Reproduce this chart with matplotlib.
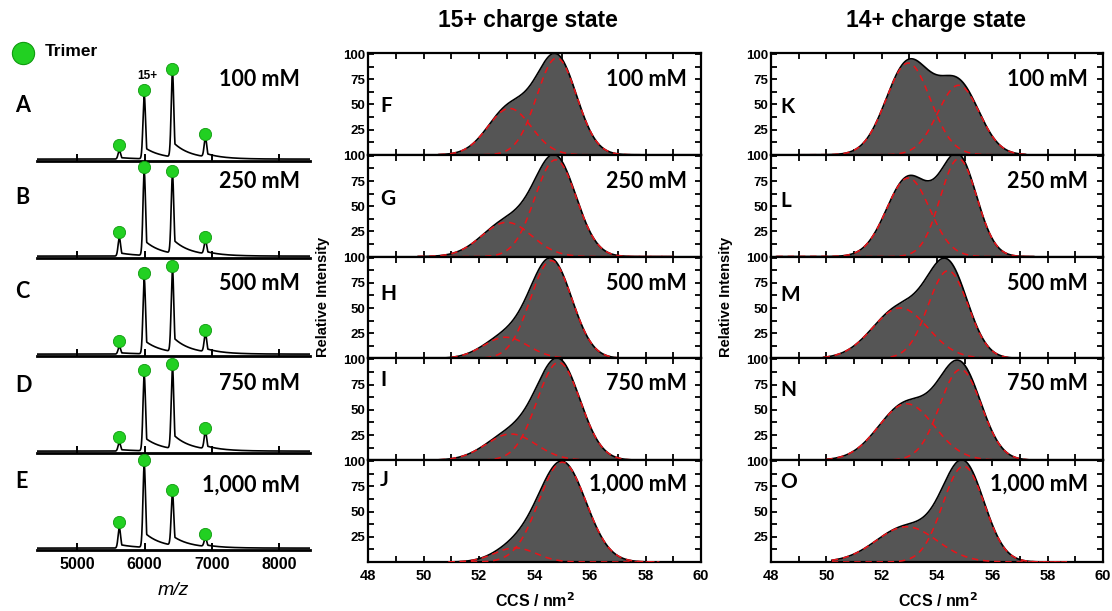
import numpy as np
import matplotlib
matplotlib.use("Agg")
import matplotlib.pyplot as plt
from matplotlib.ticker import MultipleLocator, FixedLocator

plt.rcParams["font.family"] = ["Liberation Sans", "DejaVu Sans"]
plt.rcParams["font.weight"] = "bold"

# ---------------- data ----------------
conc_labels = ["100 mM", "250 mM", "500 mM", "750 mM", "1,000 mM"]
ms_letters = ["A", "B", "C", "D", "E"]
letters_15 = ["F", "G", "H", "I", "J"]
letters_14 = ["K", "L", "M", "N", "O"]

# trimer charge states 16+, 15+, 14+, 13+
trimer_mz = [5625, 5995, 6415, 6905]
ms_heights = [
    [0.09, 0.67, 0.89, 0.20],
    [0.19, 0.88, 0.83, 0.14],
    [0.08, 0.79, 0.87, 0.19],
    [0.09, 0.79, 0.86, 0.18],
    [0.21, 0.87, 0.55, 0.09],
]
ms_ticks = [5000, 6000, 7000, 8000]

# Gaussian fit components of the CCS distributions (centre nm^2, height %, sigma)
fit15_center = [[53.1, 54.8], [53.0, 54.76], [52.96, 54.6], [53.15, 54.87], [53.3, 55.0]]
fit15_height = [[46, 96], [34, 96], [21, 97], [26, 97], [14, 99]]
fit15_sigma = [[0.78, 0.72], [0.9, 0.75], [0.8, 0.75], [0.9, 0.78], [0.75, 0.85]]
fit15_range = [(50.55, 57.8), (49.8, 59.0), (50.6, 57.9), (50.55, 57.9), (50.9, 58.5)]

fit14_center = [[52.96, 54.78], [52.96, 54.78], [52.67, 54.4], [52.9, 54.85], [52.9, 54.96]]
fit14_height = [[91, 69], [78, 97], [50, 87], [56, 90], [35, 95]]
fit14_sigma = [[0.8, 0.75], [0.78, 0.66], [1.0, 0.72], [1.0, 0.75], [1.1, 0.75]]
fit14_range = [(49.0, 57.2), (48.2, 57.5), (49.9, 57.0), (50.0, 57.3), (50.2, 58.7)]

ccs_ticks = [48, 50, 52, 54, 56, 58, 60]
intensity_ticks = [25, 50, 75, 100]

# ---------------- layout helpers ----------------
W, H = 1112, 611
fig = plt.figure(figsize=(W / 100, H / 100), dpi=100)


def px_axes(x0, y0, x1, y1):
    return fig.add_axes([x0 / W, 1 - y1 / H, (x1 - x0) / W, (y1 - y0) / H])


def ftext(x, y, s, **kw):
    fig.text(x / W, 1 - y / H, s, **kw)


def gauss(x, c, h, s):
    return h * np.exp(-0.5 * ((x - c) / s) ** 2)


def ms_trace(mz, centers, heights):
    y = np.zeros_like(mz)
    for c, h in zip(centers, heights):
        d = mz - c
        core = np.exp(-0.5 * (d / 19.0) ** 2)
        tail = np.where(d > 0, 0.18 * np.exp(-np.clip(d, 0, None) / 250.0), 0.0)
        y += h * np.maximum(core, tail)
    return y


GREEN = "#22d022"
GREEN_EDGE = "#0f9a0f"
LETTER_FONT = dict(family=["Lato", "DejaVu Sans"], fontweight="bold")

# ---------------- mass spectra ----------------
mz = np.linspace(4400, 8460, 4000)
ms_baselines = [161, 258, 356, 453, 550]
letter_y = [105, 197, 292, 386, 482]
conc_y_ms = [80, 181, 283, 383, 485]
for i, base in enumerate(ms_baselines):
    ax = px_axes(37, base - 97, 310, base)
    ax.plot(mz, ms_trace(mz, trimer_mz, ms_heights[i]), color="black", lw=1.2)
    ax.plot(trimer_mz, np.array(ms_heights[i]) + 0.06, "o", ms=8.8,
            mfc=GREEN, mec=GREEN_EDGE, mew=0.6, clip_on=False, zorder=5)
    ax.set_xlim(4400, 8460)
    ax.set_ylim(-0.02, 1.0)
    for side in ("left", "top", "right"):
        ax.spines[side].set_visible(False)
    ax.spines["bottom"].set_linewidth(2.0)
    ax.set_yticks([])
    ax.set_xticks(ms_ticks)
    ax.tick_params(axis="x", direction="in", length=5, width=1.4,
                   labelsize=11.5, labelbottom=(i == 4), pad=5)
    ax.patch.set_alpha(0)
    ftext(15, letter_y[i], ms_letters[i], fontsize=15.5, va="center", ha="left", **LETTER_FONT)
    ftext(300, conc_y_ms[i], conc_labels[i], fontsize=15.5, va="center", ha="right", **LETTER_FONT)
    if i == 4:
        ax.set_xlabel("m/z", fontsize=14, fontstyle="italic", labelpad=7)

ftext(147, 76, "15+", fontsize=8.5, ha="center", va="center")
fig.add_artist(plt.Line2D([23 / W], [1 - 53 / H], marker="o", ms=16, mfc=GREEN,
                          mec=GREEN_EDGE, mew=0.8, transform=fig.transFigure))
ftext(45, 52, "Trimer", fontsize=12.5, ha="left", va="center")

# ---------------- CCS distributions ----------------
panel_top, panel_h = 53, 101.8
conc_y_ccs = [80, 181, 283, 383, 484]
columns = [
    (368, 701, fit15_center, fit15_height, fit15_sigma, fit15_range, letters_15,
     [106, 199, 294, 380, 480], 687, 380, "15+ charge state", 528),
    (771, 1103, fit14_center, fit14_height, fit14_sigma, fit14_range, letters_14,
     [107, 201, 295, 390, 482], 1088, 780, "14+ charge state", 936),
]
for (x0, x1, centers, heights, sigmas, ranges, letters, let_y, conc_x,
     let_x, title, title_x) in columns:
    for i in range(5):
        top = panel_top + i * panel_h
        ax = px_axes(x0, top, x1, top + panel_h)
        lo, hi = ranges[i]
        x = np.linspace(lo, hi, 500)
        comps = [gauss(x, c, h, s) for c, h, s in zip(centers[i], heights[i], sigmas[i])]
        total = np.sum(comps, axis=0)
        ax.fill_between(x, 0, total, color="#555555", lw=0, zorder=2)
        ax.plot(x, total, color="black", lw=1.2, zorder=3)
        for comp in comps:
            ax.plot(x, comp, color="#e8141a", lw=1.15, ls=(0, (4, 3)), zorder=4)
        ax.set_xlim(48, 60)
        ax.set_ylim(0, 101)
        ax.xaxis.set_major_locator(FixedLocator(ccs_ticks))
        ax.xaxis.set_minor_locator(MultipleLocator(1))
        ax.yaxis.set_major_locator(FixedLocator(intensity_ticks))
        ax.yaxis.set_minor_locator(FixedLocator([12.5, 37.5, 62.5, 87.5]))
        ax.tick_params(which="both", direction="in", top=True, right=True,
                       length=4, width=1.3, pad=2, labelbottom=(i == 4))
        ax.tick_params(axis="y", labelsize=9.5)
        ax.tick_params(axis="x", labelsize=10.5, pad=5)
        for sp in ax.spines.values():
            sp.set_linewidth(1.6)
        ftext(let_x, let_y[i], letters[i], fontsize=15, va="center", ha="left", **LETTER_FONT)
        ftext(conc_x, conc_y_ccs[i], conc_labels[i], fontsize=15.5, va="center",
              ha="right", zorder=6, **LETTER_FONT)
    ftext(title_x, 21, title, fontsize=16.5, ha="center", va="center")
    ftext(x0 - 45, 297, "Relative Intensity", fontsize=10.5, rotation=90,
          ha="center", va="center")
    ftext((x0 + x1) / 2 + 1, 601, "CCS / nm$^\\mathbf{2}$", fontsize=11.5,
          ha="center", va="center")

fig.savefig("out.png", dpi=100)
